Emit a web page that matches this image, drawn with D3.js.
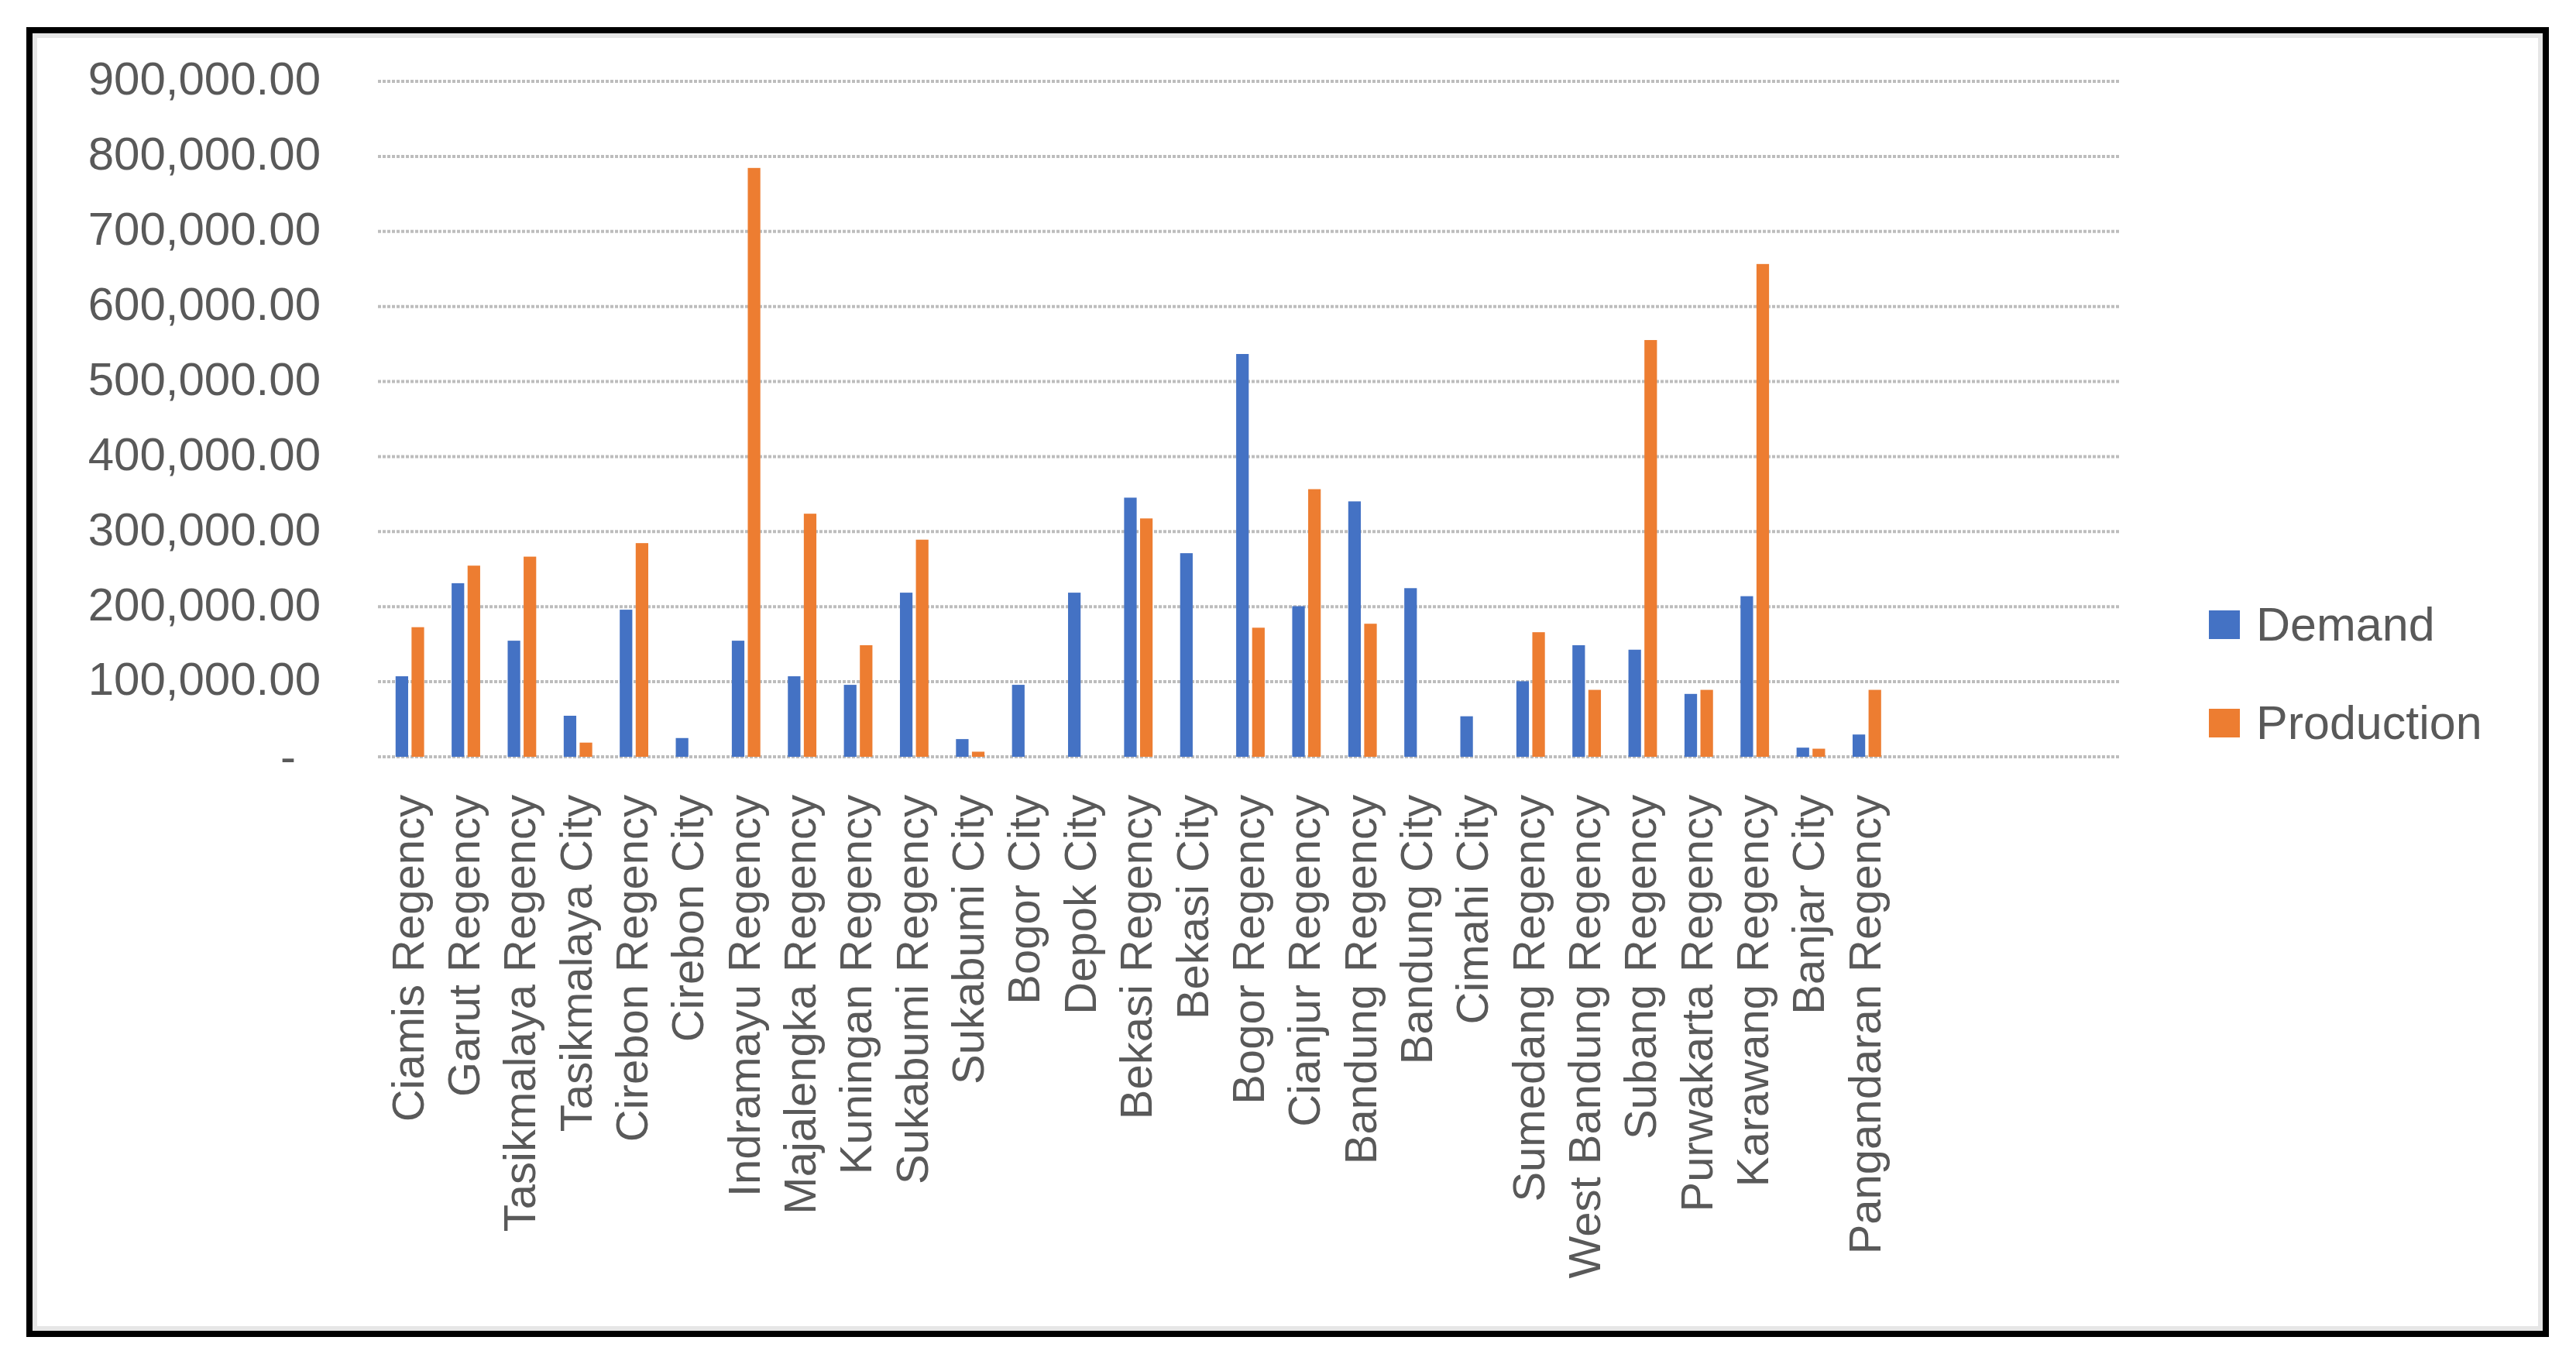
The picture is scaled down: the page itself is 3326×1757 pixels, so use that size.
<!DOCTYPE html>
<html>
<head>
<meta charset="utf-8">
<script src="https://cdn.jsdelivr.net/npm/d3@7"></script>
<style>
  html, body { margin: 0; padding: 0; background: #ffffff; }
  svg { display: block; }
  text { font-family: "Liberation Sans", Arial, sans-serif; fill: #595959; }
</style>
</head>
<body>
<svg id="chart" width="3326" height="1757"></svg>
<script>
// ---- data ----
const categories = [
  "Ciamis Regency", "Garut Regency", "Tasikmalaya Regency", "Tasikmalaya City",
  "Cirebon Regency", "Cirebon City", "Indramayu Regency", "Majalengka Regency",
  "Kuningan Regency", "Sukabumi Regency", "Sukabumi City", "Bogor City",
  "Depok City", "Bekasi Regency", "Bekasi City", "Bogor Regency",
  "Cianjur Regency", "Bandung Regency", "Bandung City", "Cimahi City",
  "Sumedang Regency", "West Bandung Regency", "Subang Regency", "Purwakarta Regency",
  "Karawang Regency", "Banjar City", "Pangandaran Regency"
];
// empty category slots that the source chart kept at the right end
const blankSlots = ["_b1", "_b2", "_b3", "_b4"];

const demand = [
  107300, 231300, 154700, 54700,
  196000, 25000, 154700, 107300,
  95900, 218700, 23600, 95900,
  218700, 345300, 271300, 536700,
  200700, 340300, 224700, 54000,
  100700, 148700, 142700, 83800,
  214000, 12200, 29700
];
const production = [
  172700, 254700, 266700, 18900,
  284700, 0, 784600, 323900,
  148700, 289300, 6800, 0,
  0, 317600, 0, 172000,
  356600, 177300, 0, 0,
  166000, 89200, 555300, 89200,
  656600, 10800, 89200
];
const seriesNames = ["Demand", "Production"];
const seriesColors = ["#4472C4", "#ED7D31"];
const yTicks = [0, 100000, 200000, 300000, 400000, 500000, 600000, 700000, 800000, 900000];

// ---- layout ----
const svg = d3.select("#chart");
const plotLeft = 493, plotRight = 2736, plotTop = 105, plotBottom = 977;

svg.append("rect").attr("x", 0).attr("y", 0).attr("width", 3326).attr("height", 1757).attr("fill", "#ffffff");

// frame
svg.append("rect").attr("x", 45).attr("y", 46).attr("width", 3235).attr("height", 1669)
  .attr("fill", "none").attr("stroke", "#e6e6e6").attr("stroke-width", 6);
svg.append("rect").attr("x", 38).attr("y", 39).attr("width", 3249).attr("height", 1683)
  .attr("fill", "none").attr("stroke", "#000000").attr("stroke-width", 8);

const domain = categories.concat(blankSlots);
const x = d3.scaleBand().domain(domain).range([plotLeft, plotRight]).paddingInner(0).paddingOuter(0);
const xInner = d3.scaleBand().domain(seriesNames).range([0, x.bandwidth()])
  .paddingInner(0.2126).paddingOuter(0.862);
const y = d3.scaleLinear().domain([0, 900000]).range([plotBottom, plotTop]);

// gridlines
svg.append("g").selectAll("line").data(yTicks).join("line")
  .attr("x1", plotLeft - 5).attr("x2", plotRight + 1)
  .attr("y1", d => y(d)).attr("y2", d => y(d))
  .attr("stroke", "#bdbdbd").attr("stroke-width", 4).attr("stroke-dasharray", "4,2");

// y axis
const fmt = d3.format(",.2f");
const yAxis = svg.append("g").attr("transform", `translate(${plotLeft},0)`)
  .call(d3.axisLeft(y).tickValues(yTicks).tickSize(0).tickPadding(plotLeft - 414)
    .tickFormat(d => d === 0 ? "-" : fmt(d)));
yAxis.select(".domain").remove();
yAxis.selectAll("text")
  .style("font-family", '"Liberation Sans", Arial, sans-serif')
  .style("font-size", "60px").attr("fill", "#595959")
  .attr("dy", "0.28em")
  .each(function(d) { if (d === 0) d3.select(this).attr("x", -(plotLeft - 382)).attr("dy", "0.32em"); });

// x axis
const xAxis = svg.append("g").attr("transform", `translate(0,${plotBottom})`)
  .call(d3.axisBottom(x).tickSize(0).tickFormat(d => blankSlots.includes(d) ? "" : d));
xAxis.select(".domain").remove();
xAxis.selectAll("text")
  .style("font-family", '"Liberation Sans", Arial, sans-serif')
  .style("font-size", "58px").attr("fill", "#595959")
  .attr("transform", "rotate(-90)")
  .attr("text-anchor", "end")
  .attr("x", -49).attr("y", 0).attr("dy", "0.3em");

// bars
const rows = categories.map((c, i) => ({ cat: c, values: [demand[i], production[i]] }));
const groups = svg.append("g").selectAll("g").data(rows).join("g")
  .attr("transform", d => `translate(${x(d.cat)},0)`);
groups.selectAll("rect").data(d => d.values.map((v, j) => ({ v, j })))
  .join("rect")
  .attr("x", d => xInner(seriesNames[d.j]))
  .attr("width", xInner.bandwidth())
  .attr("y", d => y(d.v))
  .attr("height", d => plotBottom - y(d.v))
  .attr("fill", d => seriesColors[d.j]);

// legend
const legendY = [806, 933];
const legend = svg.append("g").selectAll("g").data(seriesNames).join("g")
  .attr("transform", (d, i) => `translate(2852,${legendY[i]})`);
legend.append("rect").attr("x", 0).attr("y", -18).attr("width", 40).attr("height", 37)
  .attr("fill", (d, i) => seriesColors[i]);
legend.append("text").attr("x", 61).attr("y", 0).attr("dy", "0.35em")
  .style("font-size", "61px").text(d => d);
</script>
</body>
</html>
